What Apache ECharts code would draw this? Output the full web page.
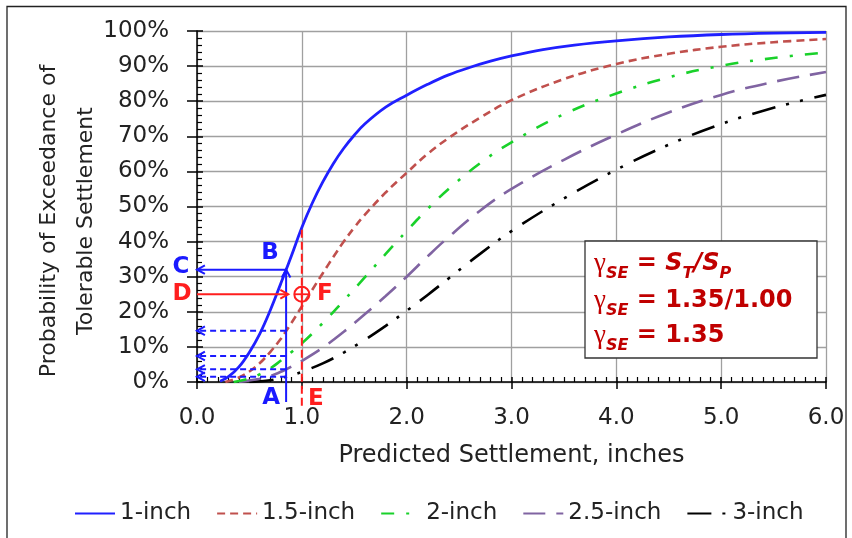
<!DOCTYPE html>
<html>
<head>
<meta charset="utf-8">
<script src="https://cdn.jsdelivr.net/npm/echarts@6/dist/echarts.min.js"></script>
<style>
  html, body { margin: 0; padding: 0; background: #fff; }
  #chart { width: 852px; height: 538px; }
</style>
</head>
<body>
<div id="chart"></div>
<script>
// Probability that tolerable settlement is exceeded vs. predicted settlement,
// one curve per tolerable settlement (inches).
const seriesNames = ['1-inch', '1.5-inch', '2-inch', '2.5-inch', '3-inch'];

const x1in = [0.22, 0.3, 0.4, 0.5, 0.6, 0.7, 0.8, 0.85, 0.9, 1.0, 1.1, 1.2, 1.3, 1.4, 1.5, 1.6, 1.8, 2.0, 2.2, 2.4, 2.6, 2.8, 3.0, 3.3, 3.6, 4.0, 4.5, 5.0, 5.5, 6.0];
const p1in = [0.2, 1.5, 4.3, 8.5, 13.8, 20.5, 28.1, 32, 35.9, 44, 51, 57, 62.2, 66.6, 70.3, 73.5, 78.3, 81.7, 84.8, 87.5, 89.6, 91.4, 92.9, 94.7, 96, 97.2, 98.3, 99, 99.4, 99.6];

const x15in = [0.27, 0.4, 0.5, 0.6, 0.7, 0.8, 0.85, 0.9, 1.0, 1.1, 1.2, 1.3, 1.4, 1.5, 1.6, 1.8, 2.0, 2.2, 2.4, 2.7, 3.0, 3.5, 4.0, 4.5, 5.0, 5.5, 6.0];
const p15in = [0, 1.3, 3.0, 5.4, 8.6, 12.3, 14.5, 16.8, 21.5, 26.3, 31, 35.6, 40, 44, 47.6, 54, 59.6, 65, 69.5, 75.3, 80.3, 86.3, 90.6, 93.5, 95.5, 96.8, 97.7];

const x2in = [0.35, 0.5, 0.6, 0.7, 0.8, 0.85, 0.9, 1.0, 1.2, 1.4, 1.6, 1.8, 2.0, 2.2, 2.4, 2.7, 3.0, 3.5, 4.0, 4.5, 5.0, 5.5, 6.0];
const p2in = [0, 1, 2.2, 3.9, 6.1, 7.3, 8.5, 11, 16.8, 23.2, 29.8, 36.5, 43, 49.3, 55, 62.3, 68.3, 76.3, 82.2, 86.8, 90.1, 92.3, 93.9];

const x25in = [0.4, 0.6, 0.7, 0.8, 0.85, 0.9, 1.0, 1.2, 1.4, 1.6, 1.8, 2.0, 2.2, 2.4, 2.7, 3.0, 3.5, 4.0, 4.5, 5.0, 5.5, 6.0];
const p25in = [0, 0.9, 1.7, 2.9, 3.6, 4.4, 6, 9.8, 14.3, 19.3, 24.5, 30, 35.8, 41.3, 48.8, 55, 63.3, 70.5, 76.8, 81.8, 85.5, 88.3];

const x3in = [0.5, 0.7, 0.8, 0.85, 0.9, 1.0, 1.2, 1.4, 1.6, 1.8, 2.0, 2.2, 2.4, 2.7, 3.0, 3.5, 4.0, 4.5, 5.0, 5.5, 6.0];
const p3in = [0, 0.5, 1.1, 1.5, 1.9, 2.9, 5.3, 8.4, 12, 16, 20.3, 24.8, 29.5, 36.5, 43, 52.3, 60.5, 67.6, 73.5, 78.1, 81.8];

// Worked example: predicted settlement at A, tolerable read-offs at C and the dashed levels,
// design point E/F at the target probability D.
const pointA = 0.85;              // inches
const levelC = 32;                // % on the 1-inch curve at A
const dashedLevels = [14.6, 7.4, 3.6, 1.5]; // % on the other curves at A
const pointE = 1.0;               // inches
const topE = 44;                  // % where the E guide meets the 1-inch curve
const levelD = 25;                // %
const arrowEndD = 0.87;           // inches
const belowAxisA = -5.7;          // % (guide runs past the axis)
const belowAxisE = -6.8;          // %

const xTicks = [0, 1, 2, 3, 4, 5, 6];

const colors = ['#2020ff', '#c0504d', '#19d12a', '#8064a2', '#000000'];
const dashes = ['solid', [8, 5], [13, 12, 3, 12], [22, 11], [24, 11, 3, 11, 3, 12]];
const xs = [x1in, x15in, x2in, x25in, x3in];
const ps = [p1in, p15in, p2in, p25in, p3in];

const FONT = 'DejaVu Sans';
const TXT = '#222';

const chart = echarts.init(document.getElementById('chart'), null, { renderer: 'canvas' });

const series = seriesNames.map((name, i) => ({
  name,
  type: 'line',
  xAxisIndex: 0,
  yAxisIndex: 0,
  data: xs[i].map((x, k) => [x, ps[i][k]]),
  showSymbol: false,
  symbol: 'none',
  smooth: 0.4,
  lineStyle: { color: colors[i], width: i === 0 ? 2.8 : 2.6, type: dashes[i] },
  itemStyle: { color: colors[i] },
  z: 5 - i
}));

const baseX = {
  type: 'value', min: xTicks[0], max: xTicks[xTicks.length - 1], interval: 1, position: 'bottom'
};
const baseY = { type: 'value', min: 0, max: 100, interval: 10, position: 'left' };

chart.setOption({
  animation: false,
  backgroundColor: '#fff',
  grid: { left: 197, right: 26, top: 31, bottom: 156, containLabel: false },
  xAxis: [
    Object.assign({}, baseX, {
      axisLine: { onZero: false, lineStyle: { color: '#000', width: 1.5 } },
      axisTick: { show: true, inside: true, length: 5, lineStyle: { color: '#000', width: 1.5 } },
      minorTick: { show: true, splitNumber: 10, length: 5, lineStyle: { color: '#000', width: 1.2 } },
      axisLabel: { show: false },
      splitLine: { show: true, lineStyle: { color: '#a0a0a0', width: 1.3 } },
      name: 'Predicted Settlement, inches',
      nameLocation: 'middle',
      nameGap: 62,
      nameTextStyle: { fontFamily: FONT, fontSize: 24, color: TXT }
    }),
    Object.assign({}, baseX, {
      axisLine: { show: false, onZero: false },
      axisTick: { show: true, inside: false, length: 7, lineStyle: { color: '#000', width: 1.5 } },
      axisLabel: { show: true, margin: 25, fontFamily: FONT, fontSize: 23, color: TXT,
        formatter: v => v.toFixed(1) },
      splitLine: { show: false }
    })
  ],
  yAxis: [
    Object.assign({}, baseY, {
      axisLine: { onZero: false, lineStyle: { color: '#000', width: 1.5 } },
      axisTick: { show: true, inside: true, length: 6, lineStyle: { color: '#000', width: 1.5 } },
      minorTick: { show: true, splitNumber: 5, length: 5, lineStyle: { color: '#000', width: 1.2 } },
      axisLabel: { show: false },
      splitLine: { show: true, lineStyle: { color: '#a0a0a0', width: 1.3 } }
    }),
    Object.assign({}, baseY, {
      axisLine: { show: false, onZero: false },
      axisTick: { show: true, inside: false, length: 10, lineStyle: { color: '#000', width: 1.5 } },
      axisLabel: { show: true, margin: 28, fontFamily: FONT, fontSize: 23, color: TXT,
        formatter: '{value}%' },
      splitLine: { show: false }
    })
  ],
  legend: {
    data: seriesNames,
    left: 69,
    top: 497,
    itemWidth: 40,
    itemHeight: 14,
    itemGap: 25,
    itemStyle: { opacity: 0 },
    textStyle: { fontFamily: FONT, fontSize: 23, color: TXT }
  },
  series
});

// ---- annotations, placed through the chart's own scales ----
const px = (x, p) => chart.convertToPixel({ xAxisIndex: 0, yAxisIndex: 0 }, [x, p]);
const BLUE = '#1a1aff';
const RED = '#ff1e1e';
const DARKRED = '#c00000';

function chevron(tip, angle, color) {
  // open arrow head; angle = direction the arrow points (radians)
  const L = 9, a = 0.5;
  const p1 = [tip[0] - L * Math.cos(angle - a), tip[1] - L * Math.sin(angle - a)];
  const p2 = [tip[0] - L * Math.cos(angle + a), tip[1] - L * Math.sin(angle + a)];
  return { type: 'polyline', shape: { points: [p1, tip, p2] },
    style: { stroke: color, lineWidth: 2, fill: null }, z: 20 };
}
function seg(a, b, color, dash, w) {
  return { type: 'line', shape: { x1: a[0], y1: a[1], x2: b[0], y2: b[1] },
    style: { stroke: color, lineWidth: w || 2, lineDash: dash || null }, z: 20 };
}
function label(text, at, dx, dy, color) {
  return { type: 'text', x: at[0] + dx, y: at[1] + dy, z: 25,
    style: { text, fill: color, font: 'bold 23px "DejaVu Sans"', align: 'center', verticalAlign: 'middle' } };
}

const g = [];
const A0 = px(pointA, belowAxisA);
const B = px(pointA, levelC);
const C = px(0, levelC);
g.push(seg(A0, B, BLUE));
g.push(chevron(B, -Math.PI / 2, BLUE));
g.push(seg(B, C, BLUE));
g.push(chevron(C, Math.PI, BLUE));
dashedLevels.forEach(lv => {
  const r = px(pointA, lv), l = px(0, lv);
  g.push(seg(r, l, BLUE, [6, 4]));
  g.push(chevron(l, Math.PI, BLUE));
});

const E0 = px(pointE, belowAxisE);
const Etop = px(pointE, topE);
g.push(seg(E0, Etop, RED, [8, 4]));
const D0 = px(0, levelD);
const D1 = px(arrowEndD, levelD);
g.push(seg(D0, D1, RED));
g.push(chevron(D1, 0, RED));
const F = px(pointE, levelD);
g.push({ type: 'circle', shape: { cx: F[0], cy: F[1], r: 7.5 }, style: { stroke: RED, lineWidth: 2, fill: null }, z: 21 });
g.push(seg([F[0] - 7.5, F[1]], [F[0] + 7.5, F[1]], RED, null, 1.8));
g.push(seg([F[0], F[1] - 7.5], [F[0], F[1] + 7.5], RED, null, 1.8));

const axisY = px(0, 0)[1];
g.push(label('A', [A0[0], axisY], -15, 16, BLUE));
g.push(label('B', B, -16, -17, BLUE));
g.push(label('C', C, -16, -3, BLUE));
g.push(label('D', D0, -15, 0, RED));
g.push(label('E', [E0[0], axisY], 14, 17, RED));
g.push(label('F', F, 23, 0, RED));

// y-axis title (two lines, reading upward)
g.push({ type: 'text', x: 68, y: 221, rotation: Math.PI / 2, z: 10,
  style: { text: 'Probability of Exceedance of\nTolerable Settlement', fill: TXT,
    font: '22px "DejaVu Sans"', lineHeight: 37, align: 'center', verticalAlign: 'middle' } });

// ratio box
g.push({ type: 'rect', shape: { x: 585, y: 241, width: 232, height: 117 },
  style: { fill: '#fff', stroke: '#333', lineWidth: 1.3 }, z: 15 });
const rich = {
  g: { fontFamily: 'Liberation Serif', fontSize: 27, fill: DARKRED },
  sub: { fontFamily: FONT, fontSize: 16, fontWeight: 'bold', fontStyle: 'italic', fill: DARKRED, padding: [20, 0, 0, 0] },
  b: { fontFamily: FONT, fontSize: 24, fontWeight: 'bold', fill: DARKRED },
  bi: { fontFamily: FONT, fontSize: 24, fontWeight: 'bold', fontStyle: 'italic', fill: DARKRED }
};
const boxLines = [
  '{g|γ}{sub|SE}{b| = }{bi|S}{sub|T}{bi|/S}{sub|P}',
  '{g|γ}{sub|SE}{b| = 1.35/1.00}',
  '{g|γ}{sub|SE}{b| = 1.35}'
];
[264, 301, 336].forEach((y, i) => {
  g.push({ type: 'text', x: 594, y, z: 16,
    style: { text: boxLines[i], rich, fill: DARKRED, align: 'left', verticalAlign: 'middle' } });
});

// frame around the figure
g.push({ type: 'polyline', shape: { points: [[7, 540], [7, 6.5], [846, 6.5], [846, 540]] },
  style: { stroke: '#222', lineWidth: 1.3, fill: null }, z: 30 });

chart.setOption({ graphic: g });
</script>
</body>
</html>
